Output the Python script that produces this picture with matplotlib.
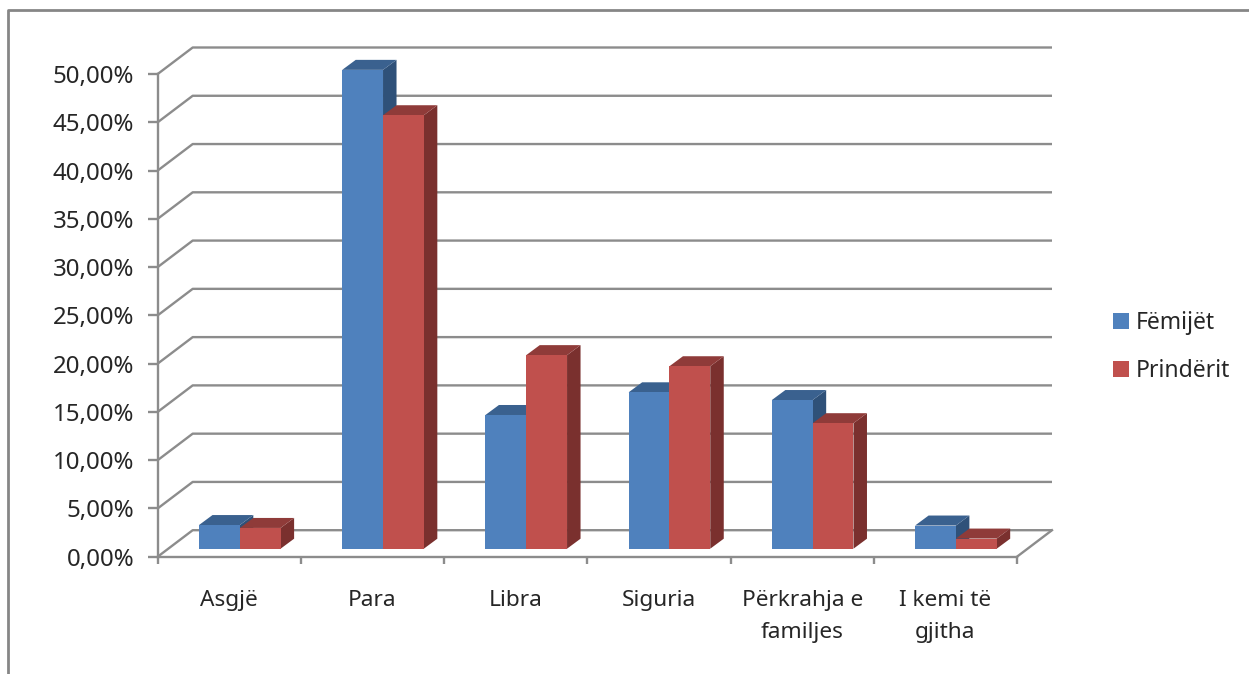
# -*- coding: utf-8 -*-
import matplotlib
matplotlib.use('Agg')
import matplotlib.pyplot as plt
from matplotlib.lines import Line2D
from matplotlib.patches import Patch

categories = ['Asgjë', 'Para', 'Libra', 'Siguria', 'Përkrahja e\nfamiljes', 'I kemi të\ngjitha']
femijet = [2.45, 49.6, 13.85, 16.2, 15.4, 2.4]
prinderit = [2.15, 44.9, 20.05, 18.9, 13.0, 1.05]
y_ticks = [0, 5, 10, 15, 20, 25, 30, 35, 40, 45, 50]
y_labels = ['0,00%', '5,00%', '10,00%', '15,00%', '20,00%', '25,00%',
            '30,00%', '35,00%', '40,00%', '45,00%', '50,00%']

W, H = 1249, 674
left, right = 157.7, 1017.0  # pixel edges of the front of the plot
top, bottom = 74.0, 556.7

plt.rcParams['font.family'] = ['Noto Sans', 'DejaVu Sans']
fig = plt.figure(figsize=(W / 100, H / 100), dpi=100, facecolor='white')
ax = fig.add_axes([left / W, 1 - bottom / H, (right - left) / W, (bottom - top) / H])
ax.set_xlim(0, 6)
ax.set_ylim(0, 50)
ax.patch.set_visible(False)

px_x = 6 / (right - left)  # data units per pixel
px_y = 50 / (bottom - top)
wall_dx, wall_dy = 35 * px_x, 26.5 * px_y
base_dx, base_dy = 10.5 * px_x, 8 * px_y
bar_dx, bar_dy = 13.5 * px_x, 10 * px_y
bar_w = 40.8 * px_x

grid_col = '#8c8c8c'
text_col = '#262626'
lw = 1.7

# the sloped floor/wall lines
for v in y_ticks:
    ax.plot([0, wall_dx, 6 + wall_dx], [v, v + wall_dy, v + wall_dy],
            color=grid_col, lw=lw, clip_on=False, zorder=1, solid_capstyle='butt')
ax.plot([6, 6 + wall_dx], [0, wall_dy], color=grid_col, lw=lw, clip_on=False, zorder=1)


def bars3d(x0, values, front, top_col, side_col, z):
    for i, v in enumerate(values):
        xl = i + x0 + base_dx
        xr = xl + bar_w
        y0 = base_dy
        y1 = base_dy + v
        ax.fill([xr, xr + bar_dx, xr + bar_dx, xr],
                [y0, y0 + bar_dy, y1 + bar_dy, y1],
                color=side_col, lw=0, clip_on=False, zorder=z)
        ax.fill([xl, xl + bar_dx, xr + bar_dx, xr],
                [y1, y1 + bar_dy, y1 + bar_dy, y1],
                color=top_col, lw=0, clip_on=False, zorder=z)
        ax.bar(xl, v, bar_w, bottom=y0, align='edge', color=front, lw=0,
               clip_on=False, zorder=z + 0.1)


# red goes on top so it covers blue's side face
bars3d(0.5 - bar_w, femijet, '#4f81bd', '#3a618f', '#2f5179', 2)
bars3d(0.5, prinderit, '#c0504d', '#8f3b39', '#7a302e', 3)

for s in ['top', 'right']:
    ax.spines[s].set_visible(False)
for s in ['left', 'bottom']:
    ax.spines[s].set_color(grid_col)
    ax.spines[s].set_linewidth(lw)
    ax.spines[s].set_zorder(4)

ax.set_yticks(y_ticks)
ax.set_yticklabels(y_labels)
ax.tick_params(axis='y', length=7, width=lw, color=grid_col, pad=10, labelsize=17.3, labelcolor=text_col)
ax.set_xticks(range(7))
ax.set_xticklabels([])
ax.tick_params(axis='x', which='major', length=5, width=lw, color=grid_col)
ax.set_xticks([i + 0.5 for i in range(6)], minor=True)
ax.set_xticklabels(categories, minor=True, linespacing=1.68)
ax.tick_params(axis='x', which='minor', length=0, pad=24, labelsize=16.3, labelcolor=text_col)

handles = [Patch(color='#4f81bd', lw=0), Patch(color='#c0504d', lw=0)]
fig.legend(handles, ['Fëmijët', 'Prindërit'], loc='center left',
           bbox_to_anchor=(1113 / W, 1 - 347 / H), frameon=False, fontsize=16.5,
           labelcolor=text_col, handlelength=0.7, handleheight=0.7, handletextpad=0.3,
           labelspacing=1.08, borderpad=0, borderaxespad=0)

# outer chart frame, only top and left are inside the crop
fig.add_artist(Line2D([8 / W, 8 / W, 1], [0, 1 - 10 / H, 1 - 10 / H],
                      color='#868686', lw=2))

fig.savefig('out.png', dpi=100, facecolor='white')
